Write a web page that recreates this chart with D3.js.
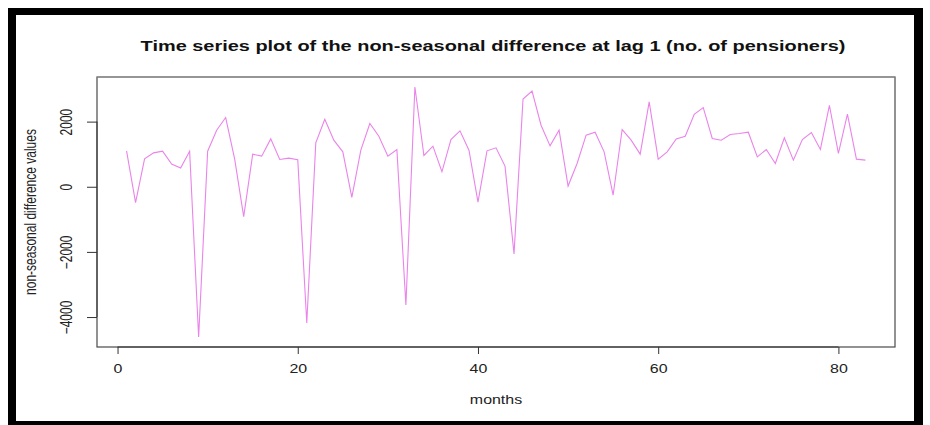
<!DOCTYPE html>
<html>
<head>
<meta charset="utf-8">
<script src="https://cdn.jsdelivr.net/npm/d3@7/dist/d3.min.js"></script>
<style>
  html, body { margin: 0; padding: 0; background: #fff; }
  svg { display: block; font-family: "Liberation Sans", Arial, sans-serif; }
</style>
</head>
<body>
<svg id="chart" width="930" height="425"></svg>
<script>
// Months 1..83 and the lag-1 differenced number of pensioners
const months = d3.range(1, 84);
const diffValues = [
  1103, -490, 858, 1041, 1093, 695, 573, 1093, -4613, 1093,
  1737, 2125, 850, -919, 1001, 940, 1470, 838, 879, 827,
  -4184, 1348, 2073, 1430, 1072, -325, 1124, 1941, 1553, 940,
  1145, -3633, 3063, 961, 1246, 460, 1451, 1716, 1124, -469,
  1103, 1195, 634, -2061, 2695, 2940, 1890, 1256, 1737, 21,
  716, 1583, 1675, 1072, -254, 1757, 1430, 1001, 2604, 848,
  1072, 1470, 1553, 2227, 2431, 1482, 1430, 1605, 1635, 1675,
  919, 1145, 716, 1501, 818, 1451, 1665, 1145, 2502, 1022,
  2227, 848, 818
];
const xTicks = [0, 20, 40, 60, 80];
const yTicks = [-4000, -2000, 0, 2000];

const titleText = "Time series plot of the non-seasonal difference at lag 1 (no. of pensioners)";
const xLabel = "months";
const yLabel = "non-seasonal difference values";

const svg = d3.select("#chart");
const W = 930, H = 425;
const plot = { left: 97, top: 77, right: 895, bottom: 347 };
const SX = 1.33; // horizontal stretch of the lettering

// outer black frame
svg.append("rect").attr("x", 0).attr("y", 0).attr("width", W).attr("height", H).attr("fill", "#fff");
svg.append("rect").attr("x", 8).attr("y", 8).attr("width", 915).attr("height", 7).attr("fill", "#000");
svg.append("rect").attr("x", 8).attr("y", 8).attr("width", 8).attr("height", H - 8).attr("fill", "#000");
svg.append("rect").attr("x", 914).attr("y", 8).attr("width", 9).attr("height", H - 8).attr("fill", "#000");
svg.append("rect").attr("x", 8).attr("y", 421).attr("width", 915).attr("height", 4).attr("fill", "#000");

// R-style 4% padding of the data range
function padded(ext) {
  const d = (ext[1] - ext[0]) * 0.04;
  return [ext[0] - d, ext[1] + d];
}
const x = d3.scaleLinear().domain(padded(d3.extent(months))).range([plot.left, plot.right]);
const y = d3.scaleLinear().domain(padded(d3.extent(diffValues))).range([plot.bottom, plot.top]);

// series line
const line = d3.line().x((d, i) => x(months[i])).y(d => y(d));
svg.append("path")
  .datum(diffValues)
  .attr("d", line)
  .attr("fill", "none")
  .attr("stroke", "#ea84ea")
  .attr("stroke-width", 1.1);

// plot box
svg.append("rect")
  .attr("x", plot.left).attr("y", plot.top)
  .attr("width", plot.right - plot.left).attr("height", plot.bottom - plot.top)
  .attr("fill", "none").attr("stroke", "#4a4a4a").attr("stroke-width", 1.2);
svg.append("line")
  .attr("x1", plot.left).attr("x2", plot.right).attr("y1", plot.top).attr("y2", plot.top)
  .attr("stroke", "#9a9a9a").attr("stroke-width", 1.2);

// x axis
const gx = svg.append("g")
  .attr("transform", `translate(0,${plot.bottom})`)
  .call(d3.axisBottom(x).tickValues(xTicks).tickSize(7).tickFormat(d3.format("d")));
gx.select(".domain").attr("stroke", "#333").attr("d", `M${x(xTicks[0])},0H${x(xTicks[xTicks.length - 1])}`);
gx.selectAll(".tick line").attr("stroke", "#333");
gx.selectAll(".tick text")
  .attr("y", 0).attr("dy", null)
  .attr("transform", `translate(0,26) scale(${SX},1)`)
  .attr("font-size", 12).attr("fill", "#222")
  .style("font-family", "Liberation Sans, Arial, sans-serif");

// y axis
const gy = svg.append("g")
  .attr("transform", `translate(${plot.left},0)`)
  .call(d3.axisLeft(y).tickValues(yTicks).tickSize(10).tickFormat(d3.format("d")));
gy.select(".domain").attr("stroke", "#333").attr("d", `M0,${y(yTicks[0])}V${y(yTicks[yTicks.length - 1])}`);
gy.selectAll(".tick line").attr("stroke", "#333");
gy.selectAll(".tick text")
  .attr("x", 0).attr("y", 0).attr("dy", null)
  .attr("text-anchor", "middle")
  .attr("transform", `translate(-25,0) scale(${SX},1) rotate(-90)`)
  .attr("font-size", 12).attr("fill", "#222")
  .style("font-family", "Liberation Sans, Arial, sans-serif");

// title
svg.append("text")
  .attr("transform", `translate(493,51) scale(${SX},1)`)
  .attr("text-anchor", "middle")
  .attr("font-size", 15).attr("font-weight", "bold").attr("fill", "#111")
  .text(titleText);

// axis titles
svg.append("text")
  .attr("transform", `translate(${(plot.left + plot.right) / 2},404) scale(${SX},1)`)
  .attr("text-anchor", "middle")
  .attr("font-size", 12).attr("fill", "#222")
  .text(xLabel);

svg.append("text")
  .attr("transform", `translate(36,${(plot.top + plot.bottom) / 2}) scale(${SX},1) rotate(-90)`)
  .attr("text-anchor", "middle")
  .attr("font-size", 12).attr("fill", "#222")
  .text(yLabel);
</script>
</body>
</html>
